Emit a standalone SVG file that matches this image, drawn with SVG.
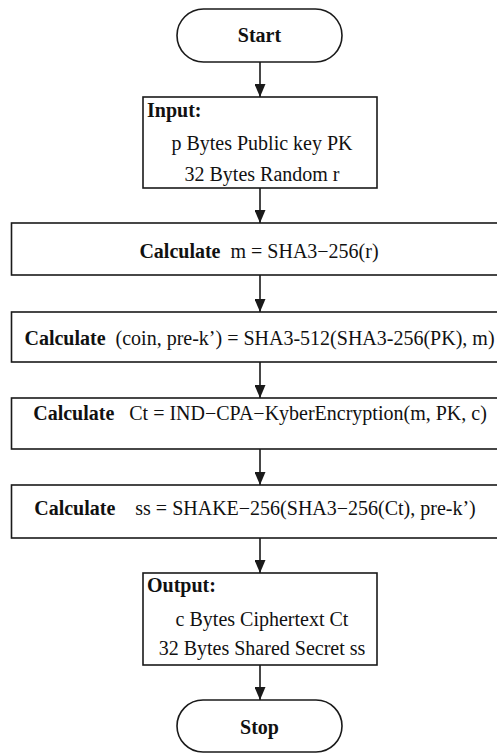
<svg xmlns="http://www.w3.org/2000/svg" width="497" height="753" viewBox="0 0 497 753">
  <style>
    .shape { fill: #ffffff; stroke: #1a1a1a; stroke-width: 1.6; }
    .edge { stroke: #1a1a1a; stroke-width: 1.6; fill: none; marker-end: url(#arrow); }
    text { font-family: "Liberation Serif", "Times New Roman", serif; font-size: 20px; fill: #111111; }
    .b { font-weight: bold; }
    .mid { text-anchor: middle; }
  </style>
  <defs>
    <marker id="arrow" viewBox="0 0 10 10" refX="10" refY="5" markerWidth="13" markerHeight="11" markerUnits="userSpaceOnUse" orient="auto" preserveAspectRatio="none">
      <path d="M0,0 L10,5 L0,10 Z" fill="#1a1a1a"/>
    </marker>
  </defs>

  <rect width="497" height="753" fill="#ffffff"/>

  <!-- connectors -->
  <g id="connectors">
    <line class="edge" x1="260" y1="62" x2="260" y2="97"/>
    <line class="edge" x1="260" y1="188" x2="260" y2="223"/>
    <line class="edge" x1="260" y1="275" x2="260" y2="312"/>
    <line class="edge" x1="260" y1="362" x2="260" y2="398"/>
    <line class="edge" x1="260" y1="449" x2="260" y2="485"/>
    <line class="edge" x1="260" y1="538" x2="260" y2="573"/>
    <line class="edge" x1="260" y1="665" x2="260" y2="700"/>
  </g>

  <!-- start terminal -->
  <g id="start">
    <rect class="shape" x="177" y="9" width="165" height="53" rx="26.5" ry="26.5"/>
    <text class="b mid" x="259.5" y="42">Start</text>
  </g>

  <!-- input block -->
  <g id="input">
    <rect class="shape" x="143" y="97" width="234" height="91"/>
    <text class="b" x="147" y="117">Input:</text>
    <text class="mid" x="262" y="150">p Bytes Public key PK</text>
    <text class="mid" x="262" y="181">32 Bytes Random r</text>
  </g>

  <!-- step 1 -->
  <g id="calc-m">
    <rect class="shape" x="11.5" y="223" width="500" height="52"/>
    <text class="mid" x="259" y="258" xml:space="preserve"><tspan class="b">Calculate</tspan>  m = SHA3−256(r)</text>
  </g>

  <!-- step 2 -->
  <g id="calc-coin">
    <rect class="shape" x="11.5" y="312" width="500" height="50"/>
    <text class="mid" x="259.5" y="345" xml:space="preserve"><tspan class="b">Calculate</tspan>  (coin, pre-k’) = SHA3-512(SHA3-256(PK), m)</text>
  </g>

  <!-- step 3 -->
  <g id="calc-ct">
    <rect class="shape" x="11.5" y="398" width="500" height="51"/>
    <text class="mid" x="260" y="420" xml:space="preserve"><tspan class="b">Calculate</tspan>   Ct = IND−CPA−KyberEncryption(m, PK, c)</text>
  </g>

  <!-- step 4 -->
  <g id="calc-ss">
    <rect class="shape" x="11.5" y="485" width="500" height="53"/>
    <text class="mid" x="255" y="515" xml:space="preserve"><tspan class="b">Calculate</tspan>    ss = SHAKE−256(SHA3−256(Ct), pre-k’)</text>
  </g>

  <!-- output block -->
  <g id="output">
    <rect class="shape" x="143" y="573" width="234" height="92"/>
    <text class="b" x="147" y="592">Output:</text>
    <text class="mid" x="262" y="626">c Bytes Ciphertext Ct</text>
    <text class="mid" x="262" y="655">32 Bytes Shared Secret ss</text>
  </g>

  <!-- stop terminal -->
  <g id="stop">
    <rect class="shape" x="177" y="700" width="165" height="52" rx="26" ry="26"/>
    <text class="b mid" x="259.5" y="734">Stop</text>
  </g>
</svg>
